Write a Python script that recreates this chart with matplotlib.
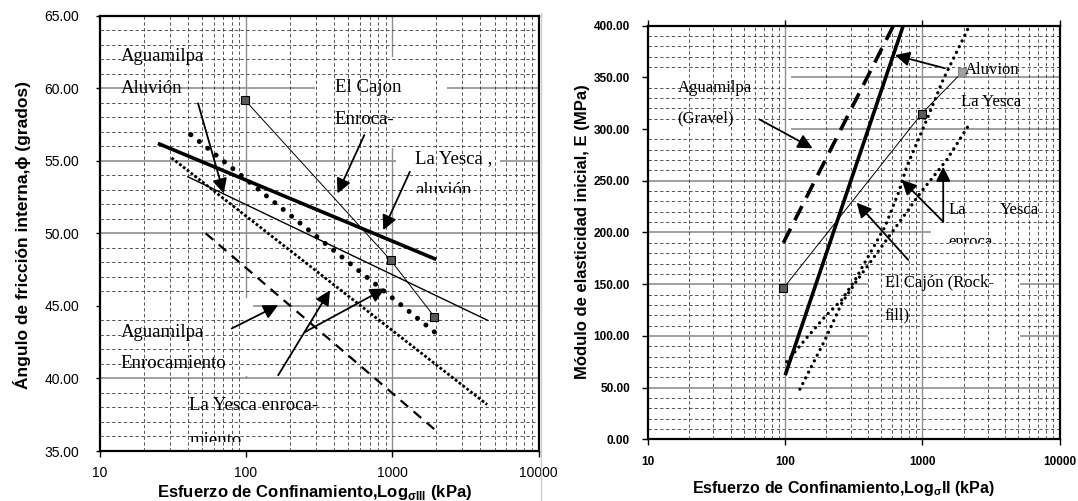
import matplotlib
matplotlib.use("Agg")
import matplotlib.pyplot as plt
import matplotlib.ticker as mticker
from matplotlib.patches import Rectangle
from matplotlib.lines import Line2D
from matplotlib.transforms import Bbox, TransformedBbox
import numpy as np

SERIF = "Liberation Serif"
SANS = "Liberation Sans"
MAJOR = "#8f8f8f"
MINOR = "#3a3a3a"

# ---- left panel: friction angle vs confining stress
phi_thick_x = [25, 2000]
phi_thick_y = [56.2, 48.2]
phi_thin_x = [40, 4500]
phi_thin_y = [53.9, 44.0]
phi_bigdot_x = [42, 2000]
phi_bigdot_y = [56.8, 43.1]
phi_smalldot_x = [31, 4450]
phi_smalldot_y = [55.2, 38.2]
phi_dash_x = [53, 2100]
phi_dash_y = [50.0, 36.2]
cajon_phi_x = [98, 975, 1940]
cajon_phi_y = [59.2, 48.15, 44.25]

# ---- right panel: initial modulus vs confining stress
e_gravel_x = [97, 615]
e_gravel_y = [190, 400]
e_thick_x = [100, 725]
e_thick_y = [62, 400]
e_cajon_x = [97, 990, 1950]
e_cajon_y = [146, 315, 355]
yesca_a_x = [128, 195, 258, 323, 789, 962, 1503, 2223]
yesca_a_y = [48.4, 96.0, 131.5, 151.0, 221.8, 237.9, 270.1, 305.6]
yesca_b_x = [102.5, 139, 195, 258, 323, 534, 667, 769, 1075, 1413, 2187]
yesca_b_y = [75.0, 96.0, 118.6, 134.7, 154.1, 205.6, 237.9, 263.6, 308.8, 347.5, 399.0]

x_ticks = [10, 100, 1000, 10000]
x_tick_labels = ["10", "100", "1000", "10000"]
phi_ticks = [35, 40, 45, 50, 55, 60, 65]
e_ticks = [0, 50, 100, 150, 200, 250, 300, 350, 400]

ARROW = dict(arrowstyle="-|>", color="black", lw=1.3,
             shrinkA=0, shrinkB=0, mutation_scale=22)


def draw_grid(ax, y_major, y_minor, vmajor_z):
    x_minor = [k * 10 ** d for d in range(1, 4) for k in range(2, 10)]
    for v in x_minor:
        ax.axvline(v, color=MINOR, lw=0.6, ls=(0, (4, 3)), zorder=0.8)
    for h in y_minor:
        ax.axhline(h, color=MINOR, lw=0.6, ls=(0, (4, 3)), zorder=0.8)
    for v in [100, 1000]:
        ax.axvline(v, color=MAJOR, lw=1.0, zorder=vmajor_z)
    for h in y_major:
        ax.axhline(h, color=MAJOR, lw=1.2, zorder=0.5)


def white_box(ax, x0, x1, y0, y1):
    ax.add_patch(Rectangle((x0, y0), x1 - x0, y1 - y0, facecolor="white",
                           edgecolor="none", zorder=0.6))


def label(ax, x, y, s, size, clip=None):
    t = ax.text(x, y, s, family=SERIF, fontsize=size, ha="left", va="center",
                zorder=3)
    if clip is not None:
        x0, x1, y0, y1 = clip
        t.set_clip_on(True)
        t.set_clip_box(TransformedBbox(Bbox([[x0, y0], [x1, y1]]),
                                       ax.transData))
    return t


def style_axes(ax, ylim, yticks):
    ax.set_xscale("log")
    ax.set_xlim(10, 10000)
    ax.set_ylim(*ylim)
    ax.set_xticks(x_ticks, x_tick_labels)
    ax.xaxis.set_minor_locator(mticker.NullLocator())
    ax.set_yticks(yticks, ["%.2f" % v for v in yticks])
    ax.yaxis.set_minor_locator(mticker.NullLocator())
    for sp in ax.spines.values():
        sp.set_linewidth(1.6)
        sp.set_color("black")


fig = plt.figure(figsize=(10.78, 5.01), dpi=100)

# ================= left panel =================
ax1 = fig.add_axes([0.0925, 0.0998, 0.4071, 0.8689])
style_axes(ax1, (35, 65), phi_ticks)
ax1.tick_params(axis="y", direction="out", length=3, width=1, pad=12)
ax1.tick_params(axis="x", direction="out", length=4, width=1, pad=7)
for t in ax1.get_xticklabels() + ax1.get_yticklabels():
    t.set_family(SANS)
    t.set_fontsize(10)

draw_grid(ax1, [40, 45, 50, 55, 60],
          [v for v in range(36, 65) if v % 5], vmajor_z=0.5)
white_box(ax1, 296, 2366, 55.88, 62.15)
white_box(ax1, 1059, 5445, 52.77, 55.88)
white_box(ax1, 10, 112, 40.15, 45.52)
white_box(ax1, 35.4, 234, 35, 39.94)

ax1.plot(phi_thick_x, phi_thick_y, color="black", lw=2.6,
         solid_capstyle="butt", zorder=2)
ax1.plot(phi_thin_x, phi_thin_y, color="black", lw=1.0, zorder=2)
ax1.plot(phi_bigdot_x, phi_bigdot_y, color="black", lw=3.6,
         ls=(0, (0.01, 2.15)), dash_capstyle="round", zorder=2)
ax1.plot(phi_smalldot_x, phi_smalldot_y, color="black", lw=2.0,
         ls=(0, (1, 0.75)), dash_capstyle="butt", zorder=2)
ax1.plot(phi_dash_x, phi_dash_y, color="black", lw=1.6,
         ls=(0, (4.5, 3.2)), zorder=2)
ax1.plot(cajon_phi_x, cajon_phi_y, color="black", lw=0.7, marker="s",
         ms=6, mfc="#5a5a5a", mec="black", mew=0.8, zorder=2.5)

label(ax1, 13.9, 62.17, "Aguamilpa", 13.5)
label(ax1, 13.9, 60.0, "Aluvión", 13.5)
label(ax1, 405, 60.06, "El Cajon", 13.5)
label(ax1, 405, 57.86, "Enroca-", 13.5)
label(ax1, 1429, 55.17, "La Yesca ,", 13.5)
label(ax1, 1429, 52.93, "aluvión", 13.5, clip=(1000, 10000, 52.77, 54.5))
label(ax1, 13.9, 43.2, "Aguamilpa", 13.5)
label(ax1, 13.9, 41.03, "Enrocamiento", 13.5)
label(ax1, 41.0, 38.15, "La Yesca enroca-", 13.5)
label(ax1, 41.0, 35.74, "miento", 13.5, clip=(20, 1000, 35.62, 37.5))

ax1.annotate("", xy=(70.5, 52.75), xytext=(47, 58.96), arrowprops=ARROW, zorder=3)
ax1.annotate("", xy=(422, 52.75), xytext=(644, 56.77), arrowprops=ARROW, zorder=3)
ax1.annotate("", xy=(867, 50.22), xytext=(1318, 54.24), arrowprops=ARROW, zorder=3)
ax1.annotate("", xy=(166, 45.05), xytext=(79.8, 43.44), arrowprops=ARROW, zorder=3)
ax1.annotate("", xy=(375, 46.08), xytext=(166, 40.22), arrowprops=ARROW, zorder=3)
ax1.annotate("", xy=(891, 46.2), xytext=(253, 43.2), arrowprops=ARROW, zorder=3)

# ================= right panel =================
ax2 = fig.add_axes([0.6011, 0.1232, 0.3818, 0.8255])
style_axes(ax2, (0, 400), e_ticks)
ax2.tick_params(axis="y", direction="out", length=4, width=1, pad=9)
ax2.tick_params(axis="x", direction="out", length=4, width=1, pad=8,
                top=True)
for t in ax2.get_xticklabels() + ax2.get_yticklabels():
    t.set_family(SANS)
    t.set_fontsize(8.5)
    t.set_fontweight("bold")

draw_grid(ax2, [50, 100, 150, 200, 250, 300, 350],
          [v for v in range(10, 400, 10) if v % 50], vmajor_z=0.8)
white_box(ax2, 10, 110, 289.5, 366.8)
white_box(ax2, 401, 5140, 88.3, 183.1)
white_box(ax2, 1156, 10000, 188.9, 243.0)

ax2.plot(e_gravel_x, e_gravel_y, color="black", lw=2.6,
         ls=(0, (4.4, 2.6)), zorder=2)
ax2.plot(e_thick_x, e_thick_y, color="black", lw=2.6,
         solid_capstyle="butt", zorder=2)
ax2.plot(e_cajon_x, e_cajon_y, color="black", lw=0.7, zorder=2)
ax2.plot(e_cajon_x[:2], e_cajon_y[:2], ls="none", marker="s", ms=6,
         mfc="#5a5a5a", mec="black", mew=0.8, zorder=2.5)
ax2.plot(e_cajon_x[2:], e_cajon_y[2:], ls="none", marker="s", ms=6,
         mfc="#a0a0a0", mec="#8a8a8a", mew=0.8, zorder=2.5)
ax2.plot(yesca_a_x, yesca_a_y, color="black", lw=2.4,
         ls=(0, (0.01, 1.9)), dash_capstyle="round", zorder=2)
ax2.plot(yesca_b_x, yesca_b_y, color="black", lw=2.4,
         ls=(0, (0.01, 1.9)), dash_capstyle="round", zorder=2)

label(ax2, 16.4, 339.5, "Aguamilpa", 12)
label(ax2, 16.4, 310.4, "(Gravel)", 12)
label(ax2, 2028, 357.2, "Aluvion", 12)
label(ax2, 1923, 326.5, "La Yesca", 12)
label(ax2, 1549, 221.8, "La", 12)
label(ax2, 3664, 221.8, "Yesca", 12)
label(ax2, 1549, 190.8, "enroca", 12, clip=(1000, 10000, 189.6, 205))
label(ax2, 533, 150.9, "El Cajón (Rock-", 12)
label(ax2, 533, 120.2, "fill)", 12)

ax2.annotate("", xy=(631, 371.5), xytext=(1462, 358.8), arrowprops=ARROW, zorder=3)
ax2.annotate("", xy=(158.6, 281.4), xytext=(64.7, 309.5), arrowprops=ARROW, zorder=3)
ax2.annotate("", xy=(1419, 263.6), xytext=(1419, 210.4), arrowprops=ARROW, zorder=3)
ax2.annotate("", xy=(707, 250.8), xytext=(1419, 210.4), arrowprops=ARROW, zorder=3)
ax2.annotate("", xy=(332, 228.8), xytext=(789, 173.4), arrowprops=ARROW, zorder=3)

# ---- axis titles
fig.text(22 / 1078, 1 - 235 / 501, "Ángulo de fricción interna,ϕ (grados)",
         rotation=90, ha="center", va="center", family=SANS,
         fontsize=12.5, fontweight="bold")
fig.text(315 / 1078, 1 - 492 / 501,
         r"Esfuerzo de Confinamiento,Log$_{\mathregular{σIII}}$ (kPa)",
         ha="center", va="center", family=SANS, fontsize=12, fontweight="bold")
fig.text(583 / 1078, 1 - 232 / 501, "Módulo de elasticidad inicial, E (MPa)",
         rotation=90, ha="center", va="center", family=SANS,
         fontsize=12, fontweight="bold")
fig.text(843 / 1078, 1 - 489 / 501,
         r"Esfuerzo de Confinamiento,Log$_{\mathregular{σ}}$II (kPa)",
         ha="center", va="center", family=SANS, fontsize=11.5, fontweight="bold")

fig.add_artist(Line2D([541 / 1078, 541 / 1078], [0.0, 0.975],
                      color="#cfcfcf", lw=1.0))

fig.savefig("out.png", dpi=100)
plt.close(fig)
